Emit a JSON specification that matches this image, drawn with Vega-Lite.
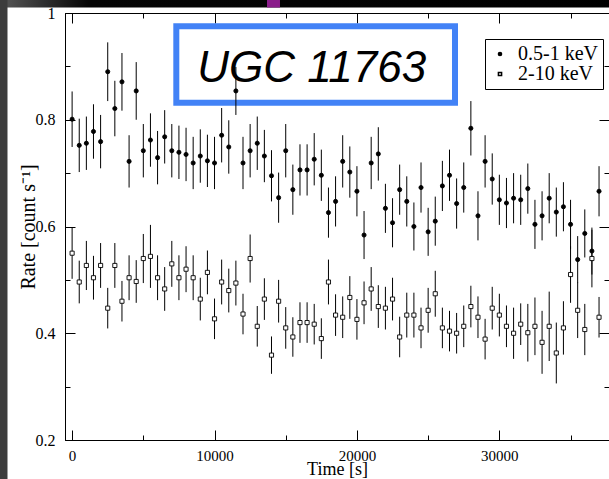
{
  "$schema": "https://vega.github.io/schema/vega-lite/v6.json",
  "autosize": {"type": "none"},
  "width": 544,
  "height": 427,
  "padding": {"left": 65, "top": 13, "right": 0, "bottom": 39},
  "background": "white",
  "config": {
    "view": {"stroke": "black", "strokeWidth": 1},
    "axis": {
      "labelFont": "Liberation Serif", "labelFontSize": 16, "labelColor": "black",
      "titleFont": "Liberation Serif", "titleFontSize": 20, "titleFontWeight": "normal", "titleColor": "black",
      "tickColor": "black", "tickWidth": 1, "tickOpacity": 1, "domainColor": "black", "domainWidth": 1, "domainOpacity": 1, "grid": false, "zindex": 1
    }
  },
  "datasets": {
    "lc": [
      {"t":0,"band":"0.5-1 keV","rate":0.801,"err":0.052},
      {"t":500,"band":"0.5-1 keV","rate":0.752,"err":0.050},
      {"t":1000,"band":"0.5-1 keV","rate":0.756,"err":0.050},
      {"t":1500,"band":"0.5-1 keV","rate":0.778,"err":0.051},
      {"t":2000,"band":"0.5-1 keV","rate":0.759,"err":0.050},
      {"t":2500,"band":"0.5-1 keV","rate":0.890,"err":0.055},
      {"t":3000,"band":"0.5-1 keV","rate":0.821,"err":0.052},
      {"t":3500,"band":"0.5-1 keV","rate":0.871,"err":0.054},
      {"t":4000,"band":"0.5-1 keV","rate":0.722,"err":0.049},
      {"t":4500,"band":"0.5-1 keV","rate":0.854,"err":0.054},
      {"t":5000,"band":"0.5-1 keV","rate":0.742,"err":0.050},
      {"t":5500,"band":"0.5-1 keV","rate":0.762,"err":0.050},
      {"t":6000,"band":"0.5-1 keV","rate":0.729,"err":0.050},
      {"t":6500,"band":"0.5-1 keV","rate":0.768,"err":0.050},
      {"t":7000,"band":"0.5-1 keV","rate":0.742,"err":0.050},
      {"t":7500,"band":"0.5-1 keV","rate":0.739,"err":0.050},
      {"t":8000,"band":"0.5-1 keV","rate":0.735,"err":0.050},
      {"t":8500,"band":"0.5-1 keV","rate":0.719,"err":0.049},
      {"t":9000,"band":"0.5-1 keV","rate":0.732,"err":0.050},
      {"t":9500,"band":"0.5-1 keV","rate":0.723,"err":0.049},
      {"t":10000,"band":"0.5-1 keV","rate":0.719,"err":0.049},
      {"t":10500,"band":"0.5-1 keV","rate":0.771,"err":0.051},
      {"t":11000,"band":"0.5-1 keV","rate":0.749,"err":0.050},
      {"t":11500,"band":"0.5-1 keV","rate":0.854,"err":0.045},
      {"t":12000,"band":"0.5-1 keV","rate":0.719,"err":0.049},
      {"t":12500,"band":"0.5-1 keV","rate":0.742,"err":0.050},
      {"t":13000,"band":"0.5-1 keV","rate":0.756,"err":0.050},
      {"t":13500,"band":"0.5-1 keV","rate":0.732,"err":0.049},
      {"t":14000,"band":"0.5-1 keV","rate":0.695,"err":0.048},
      {"t":14500,"band":"0.5-1 keV","rate":0.654,"err":0.047},
      {"t":15000,"band":"0.5-1 keV","rate":0.742,"err":0.050},
      {"t":15500,"band":"0.5-1 keV","rate":0.669,"err":0.047},
      {"t":16000,"band":"0.5-1 keV","rate":0.706,"err":0.048},
      {"t":16500,"band":"0.5-1 keV","rate":0.706,"err":0.048},
      {"t":17000,"band":"0.5-1 keV","rate":0.726,"err":0.049},
      {"t":17500,"band":"0.5-1 keV","rate":0.696,"err":0.048},
      {"t":18000,"band":"0.5-1 keV","rate":0.626,"err":0.047},
      {"t":18500,"band":"0.5-1 keV","rate":0.647,"err":0.047},
      {"t":19000,"band":"0.5-1 keV","rate":0.722,"err":0.049},
      {"t":19500,"band":"0.5-1 keV","rate":0.702,"err":0.048},
      {"t":20000,"band":"0.5-1 keV","rate":0.666,"err":0.047},
      {"t":20500,"band":"0.5-1 keV","rate":0.584,"err":0.045},
      {"t":21000,"band":"0.5-1 keV","rate":0.719,"err":0.049},
      {"t":21500,"band":"0.5-1 keV","rate":0.736,"err":0.050},
      {"t":22000,"band":"0.5-1 keV","rate":0.634,"err":0.046},
      {"t":22500,"band":"0.5-1 keV","rate":0.607,"err":0.046},
      {"t":23000,"band":"0.5-1 keV","rate":0.669,"err":0.047},
      {"t":23500,"band":"0.5-1 keV","rate":0.647,"err":0.047},
      {"t":24000,"band":"0.5-1 keV","rate":0.600,"err":0.045},
      {"t":24500,"band":"0.5-1 keV","rate":0.673,"err":0.047},
      {"t":25000,"band":"0.5-1 keV","rate":0.590,"err":0.045},
      {"t":25500,"band":"0.5-1 keV","rate":0.610,"err":0.046},
      {"t":26000,"band":"0.5-1 keV","rate":0.676,"err":0.047},
      {"t":26500,"band":"0.5-1 keV","rate":0.696,"err":0.048},
      {"t":27000,"band":"0.5-1 keV","rate":0.643,"err":0.047},
      {"t":27500,"band":"0.5-1 keV","rate":0.673,"err":0.047},
      {"t":28000,"band":"0.5-1 keV","rate":0.784,"err":0.051},
      {"t":28500,"band":"0.5-1 keV","rate":0.620,"err":0.046},
      {"t":29000,"band":"0.5-1 keV","rate":0.722,"err":0.049},
      {"t":29500,"band":"0.5-1 keV","rate":0.689,"err":0.048},
      {"t":30000,"band":"0.5-1 keV","rate":0.650,"err":0.047},
      {"t":30500,"band":"0.5-1 keV","rate":0.644,"err":0.047},
      {"t":31000,"band":"0.5-1 keV","rate":0.653,"err":0.047},
      {"t":31500,"band":"0.5-1 keV","rate":0.650,"err":0.047},
      {"t":32000,"band":"0.5-1 keV","rate":0.671,"err":0.047},
      {"t":32500,"band":"0.5-1 keV","rate":0.604,"err":0.046},
      {"t":33000,"band":"0.5-1 keV","rate":0.620,"err":0.046},
      {"t":33500,"band":"0.5-1 keV","rate":0.653,"err":0.047},
      {"t":34000,"band":"0.5-1 keV","rate":0.627,"err":0.046},
      {"t":34500,"band":"0.5-1 keV","rate":0.637,"err":0.046},
      {"t":35000,"band":"0.5-1 keV","rate":0.604,"err":0.046},
      {"t":35500,"band":"0.5-1 keV","rate":0.538,"err":0.044},
      {"t":36000,"band":"0.5-1 keV","rate":0.587,"err":0.045},
      {"t":36500,"band":"0.5-1 keV","rate":0.554,"err":0.044},
      {"t":37000,"band":"0.5-1 keV","rate":0.666,"err":0.047},
      {"t":0,"band":"2-10 keV","rate":0.550,"err":0.048},
      {"t":500,"band":"2-10 keV","rate":0.496,"err":0.040},
      {"t":1000,"band":"2-10 keV","rate":0.527,"err":0.046},
      {"t":1500,"band":"2-10 keV","rate":0.504,"err":0.041},
      {"t":2000,"band":"2-10 keV","rate":0.527,"err":0.042},
      {"t":2500,"band":"2-10 keV","rate":0.447,"err":0.038},
      {"t":3000,"band":"2-10 keV","rate":0.527,"err":0.042},
      {"t":3500,"band":"2-10 keV","rate":0.460,"err":0.038},
      {"t":4000,"band":"2-10 keV","rate":0.504,"err":0.042},
      {"t":4500,"band":"2-10 keV","rate":0.497,"err":0.040},
      {"t":5000,"band":"2-10 keV","rate":0.540,"err":0.046},
      {"t":5500,"band":"2-10 keV","rate":0.544,"err":0.059},
      {"t":6000,"band":"2-10 keV","rate":0.504,"err":0.042},
      {"t":6500,"band":"2-10 keV","rate":0.483,"err":0.041},
      {"t":7000,"band":"2-10 keV","rate":0.530,"err":0.043},
      {"t":7500,"band":"2-10 keV","rate":0.504,"err":0.042},
      {"t":8000,"band":"2-10 keV","rate":0.520,"err":0.043},
      {"t":8500,"band":"2-10 keV","rate":0.504,"err":0.042},
      {"t":9000,"band":"2-10 keV","rate":0.464,"err":0.040},
      {"t":9500,"band":"2-10 keV","rate":0.514,"err":0.041},
      {"t":10000,"band":"2-10 keV","rate":0.427,"err":0.038},
      {"t":10500,"band":"2-10 keV","rate":0.496,"err":0.042},
      {"t":11000,"band":"2-10 keV","rate":0.480,"err":0.041},
      {"t":11500,"band":"2-10 keV","rate":0.494,"err":0.042},
      {"t":12000,"band":"2-10 keV","rate":0.436,"err":0.038},
      {"t":12500,"band":"2-10 keV","rate":0.540,"err":0.045},
      {"t":13000,"band":"2-10 keV","rate":0.413,"err":0.038},
      {"t":13500,"band":"2-10 keV","rate":0.464,"err":0.039},
      {"t":14000,"band":"2-10 keV","rate":0.359,"err":0.035},
      {"t":14500,"band":"2-10 keV","rate":0.460,"err":0.040},
      {"t":15000,"band":"2-10 keV","rate":0.410,"err":0.039},
      {"t":15500,"band":"2-10 keV","rate":0.393,"err":0.037},
      {"t":16000,"band":"2-10 keV","rate":0.420,"err":0.038},
      {"t":16500,"band":"2-10 keV","rate":0.420,"err":0.038},
      {"t":17000,"band":"2-10 keV","rate":0.417,"err":0.038},
      {"t":17500,"band":"2-10 keV","rate":0.390,"err":0.038},
      {"t":18000,"band":"2-10 keV","rate":0.496,"err":0.042},
      {"t":18500,"band":"2-10 keV","rate":0.434,"err":0.039},
      {"t":19000,"band":"2-10 keV","rate":0.430,"err":0.039},
      {"t":19500,"band":"2-10 keV","rate":0.467,"err":0.040},
      {"t":20000,"band":"2-10 keV","rate":0.426,"err":0.038},
      {"t":20500,"band":"2-10 keV","rate":0.457,"err":0.040},
      {"t":21000,"band":"2-10 keV","rate":0.483,"err":0.041},
      {"t":21500,"band":"2-10 keV","rate":0.450,"err":0.040},
      {"t":22000,"band":"2-10 keV","rate":0.447,"err":0.040},
      {"t":22500,"band":"2-10 keV","rate":0.464,"err":0.040},
      {"t":23000,"band":"2-10 keV","rate":0.393,"err":0.038},
      {"t":23500,"band":"2-10 keV","rate":0.434,"err":0.042},
      {"t":24000,"band":"2-10 keV","rate":0.434,"err":0.042},
      {"t":24500,"band":"2-10 keV","rate":0.410,"err":0.038},
      {"t":25000,"band":"2-10 keV","rate":0.443,"err":0.042},
      {"t":25500,"band":"2-10 keV","rate":0.474,"err":0.043},
      {"t":26000,"band":"2-10 keV","rate":0.410,"err":0.038},
      {"t":26500,"band":"2-10 keV","rate":0.404,"err":0.038},
      {"t":27000,"band":"2-10 keV","rate":0.400,"err":0.038},
      {"t":27500,"band":"2-10 keV","rate":0.413,"err":0.039},
      {"t":28000,"band":"2-10 keV","rate":0.450,"err":0.039},
      {"t":28500,"band":"2-10 keV","rate":0.430,"err":0.039},
      {"t":29000,"band":"2-10 keV","rate":0.389,"err":0.038},
      {"t":29500,"band":"2-10 keV","rate":0.447,"err":0.040},
      {"t":30000,"band":"2-10 keV","rate":0.434,"err":0.040},
      {"t":30500,"band":"2-10 keV","rate":0.413,"err":0.039},
      {"t":31000,"band":"2-10 keV","rate":0.400,"err":0.048},
      {"t":31500,"band":"2-10 keV","rate":0.417,"err":0.039},
      {"t":32000,"band":"2-10 keV","rate":0.401,"err":0.054},
      {"t":32500,"band":"2-10 keV","rate":0.413,"err":0.054},
      {"t":33000,"band":"2-10 keV","rate":0.383,"err":0.059},
      {"t":33500,"band":"2-10 keV","rate":0.413,"err":0.065},
      {"t":34000,"band":"2-10 keV","rate":0.363,"err":0.057},
      {"t":34500,"band":"2-10 keV","rate":0.410,"err":0.050},
      {"t":35000,"band":"2-10 keV","rate":0.510,"err":0.053},
      {"t":35500,"band":"2-10 keV","rate":0.443,"err":0.052},
      {"t":36000,"band":"2-10 keV","rate":0.407,"err":0.048},
      {"t":36500,"band":"2-10 keV","rate":0.540,"err":0.054},
      {"t":37000,"band":"2-10 keV","rate":0.430,"err":0.038}
    ]
  },
  "resolve": {"scale": {"x": "independent", "y": "independent"}},
  "layer": [
    {
      "data": {"values": [{"x0": -5200, "x1": 40000, "y0": 1.0103, "y1": 1.2}]},
      "mark": {"type": "rect", "fill": {"gradient": "linear", "x1": 0, "y1": 0, "x2": 1, "y2": 0, "stops": [{"offset": 0, "color": "#5a5a5a"}, {"offset": 0.14, "color": "#050505"}, {"offset": 1, "color": "#000000"}]}},
      "encoding": {
        "x": {"field": "x0", "type": "quantitative", "scale": {"domain": [-500, 37700], "nice": false, "zero": false},
              "axis": {"orient": "bottom", "values": [0, 10000, 20000, 30000], "format": "d", "title": "Time [s]", "titleFontSize": 18, "labelFontSize": 15, "labelFlush": false, "tickSize": -10, "labelPadding": 18, "titleBaseline": "alphabetic", "titlePadding": 11, "domain": true}},
        "x2": {"field": "x1"},
        "y": {"field": "y0", "type": "quantitative", "scale": {"domain": [0.2, 1], "nice": false, "zero": false},
              "axis": {"orient": "left", "values": [0.2, 0.4, 0.6, 0.8, 1], "format": "~g", "title": "Rate [count s⁻¹]", "tickSize": -10, "labelPadding": 20, "titlePadding": -3, "domain": true}},
        "y2": {"field": "y1"}
      }
    },
    {
      "data": {"values": [{"x0": -5200, "x1": -4538, "y0": 0, "y1": 1.2}]},
      "mark": {"type": "rect", "fill": "#3c3c3c"},
      "encoding": {
        "x": {"field": "x0", "type": "quantitative", "scale": {"domain": [-500, 37700], "nice": false, "zero": false},
              "axis": {"orient": "bottom", "values": [5000, 15000, 25000, 35000], "labels": false, "title": null, "tickSize": -5, "domain": false}},
        "x2": {"field": "x1"},
        "y": {"field": "y0", "type": "quantitative", "scale": {"domain": [0.2, 1], "nice": false, "zero": false},
              "axis": {"orient": "left", "values": [0.3, 0.5, 0.7, 0.9], "labels": false, "title": null, "tickSize": -5, "domain": false}},
        "y2": {"field": "y1"}
      }
    },
    {
      "data": {"values": [{"x0": 13684, "x1": 14597, "y0": 1.0103, "y1": 1.2}]},
      "mark": {"type": "rect", "fill": "#8b1c8b"},
      "encoding": {
        "x": {"field": "x0", "type": "quantitative", "scale": {"domain": [-500, 37700], "nice": false, "zero": false},
              "axis": {"orient": "top", "values": [0, 10000, 20000, 30000], "labels": false, "title": null, "tickSize": -10, "domain": true}},
        "x2": {"field": "x1"},
        "y": {"field": "y0", "type": "quantitative", "scale": {"domain": [0.2, 1], "nice": false, "zero": false},
              "axis": {"orient": "right", "values": [0.2, 0.4, 0.6, 0.8, 1], "labels": false, "title": null, "tickSize": -10, "domain": false}},
        "y2": {"field": "y1"}
      }
    },
    {
      "data": {"values": [{"x0": 7316, "x1": 26886, "y0": 0.9751, "y1": 0.8319}]},
      "mark": {"type": "rect", "fill": "white", "stroke": "#4282f6", "strokeWidth": 6},
      "encoding": {
        "x": {"field": "x0", "type": "quantitative", "scale": {"domain": [-500, 37700], "nice": false, "zero": false},
              "axis": {"orient": "top", "values": [5000, 15000, 25000, 35000], "labels": false, "title": null, "tickSize": -5, "domain": false}},
        "x2": {"field": "x1"},
        "y": {"field": "y0", "type": "quantitative", "scale": {"domain": [0.2, 1], "nice": false, "zero": false},
              "axis": {"orient": "right", "values": [0.3, 0.5, 0.7, 0.9], "labels": false, "title": null, "tickSize": -5, "domain": false}},
        "y2": {"field": "y1"}
      }
    },
    {
      "data": {"values": [{"label": "UGC 11763", "x": 16823, "y": 0.8947}]},
      "mark": {"type": "text", "font": "Liberation Sans", "fontStyle": "italic", "fontSize": 44, "color": "black", "align": "center", "baseline": "middle"},
      "encoding": {
        "x": {"field": "x", "type": "quantitative", "scale": {"domain": [-500, 37700], "nice": false, "zero": false}, "axis": null},
        "y": {"field": "y", "type": "quantitative", "scale": {"domain": [0.2, 1], "nice": false, "zero": false}, "axis": null},
        "text": {"field": "label"}
      }
    },
    {
      "data": {"name": "lc"},
      "mark": {"type": "errorbar", "color": "black", "thickness": 1},
      "encoding": {
        "x": {"field": "t", "type": "quantitative", "scale": {"domain": [-500, 37700], "nice": false, "zero": false}, "axis": null},
        "y": {"field": "rate", "type": "quantitative", "scale": {"domain": [0.2, 1], "nice": false, "zero": false}, "axis": null},
        "yError": {"field": "err"}
      }
    },
    {
      "data": {"name": "lc"},
      "mark": {"type": "point", "filled": true, "size": 17, "stroke": "black", "strokeWidth": 0.9, "opacity": 1},
      "encoding": {
        "x": {"field": "t", "type": "quantitative", "scale": {"domain": [-500, 37700], "nice": false, "zero": false}, "axis": null},
        "y": {"field": "rate", "type": "quantitative", "scale": {"domain": [0.2, 1], "nice": false, "zero": false}, "axis": null},
        "fill": {"field": "band", "type": "nominal", "scale": {"domain": ["0.5-1 keV", "2-10 keV"], "range": ["black", "white"]},
                 "legend": {"title": null, "orient": "none", "legendX": 420, "legendY": 26, "strokeColor": "black", "fillColor": "white", "padding": 5, "symbolSize": 10, "labelFont": "Liberation Serif", "labelFontSize": 20, "labelColor": "black", "rowPadding": 0, "symbolOffset": 0, "labelOffset": 8,
                            "encode": {"symbols": {"update": {"stroke": {"value": "black"}, "strokeWidth": {"value": 0.8}}}}}},
        "shape": {"field": "band", "type": "nominal", "scale": {"domain": ["0.5-1 keV", "2-10 keV"], "range": ["circle", "square"]},
                  "legend": {"title": null, "orient": "none", "legendX": 420, "legendY": 26, "strokeColor": "black", "fillColor": "white", "padding": 5, "symbolSize": 10, "labelFont": "Liberation Serif", "labelFontSize": 20, "labelColor": "black", "rowPadding": 0, "symbolOffset": 0, "labelOffset": 8,
                             "encode": {"symbols": {"update": {"stroke": {"value": "black"}, "strokeWidth": {"value": 0.8}}}}}}
      }
    }
  ]
}
